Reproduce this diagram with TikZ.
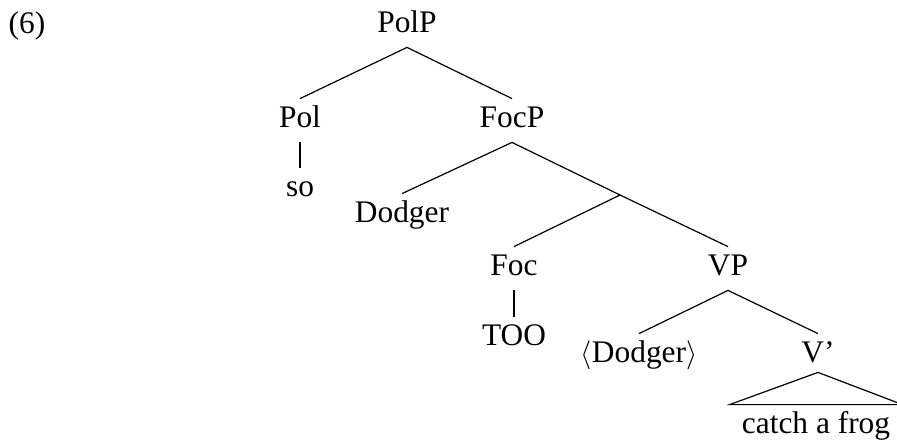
\documentclass[tikz,border=0pt]{standalone}
\usepackage{fontspec}
\setmainfont{Liberation Serif}
\begin{document}
\begin{tikzpicture}[
    x=0.5pt, y=-0.5pt,
    cat/.style={anchor=base, font=\fontsize{15.7}{18}\selectfont,
      text height=10pt, text depth=3.5pt, inner xsep=3pt, inner ysep=4pt},
    branch/.style={line width=0.6pt}
  ]
  \useasboundingbox (0,0) rectangle (897,440);

  \node (ex) at (27, 33) [cat] {(6)};

  \node (polp)   at (407, 32)  [cat] {PolP};
  \node (pol)    at (300, 127) [cat] {Pol};
  \node (focp)   at (512, 127) [cat] {FocP};
  \node (so)     at (300, 196) [cat] {so};
  \node (dodger) at (402, 222) [cat] {Dodger};
  \coordinate (fbar) at (620, 195);
  \node (foc)    at (514, 275) [cat] {Foc};
  \node (vp)     at (728, 275) [cat] {VP};
  \node (too)    at (514, 345) [cat] {TOO};
  \node (trace)  at (639, 362) [cat] {$\langle$Dodger$\rangle$};
  \node (vbar)   at (818, 362) [cat] {V'};
  \node (catch)  at (816, 433) [cat, inner xsep=6pt] {catch a frog};

  \draw [branch] (pol.north) -- (polp.south) -- (focp.north);
  \draw [branch] (pol.south) -- (so.north);
  \draw [branch] (dodger.north) -- (focp.south) -- (fbar);
  \draw [branch] (foc.north) -- (fbar) -- (vp.north);
  \draw [branch] (foc.south) -- (too.north);
  \draw [branch] (trace.north) -- (vp.south) -- (vbar.north);
  % triangle over the unanalysed V'
  \draw [branch] ([yshift=2.5pt]vbar.south) -- (catch.north east)
    -- (catch.north west) -- cycle;
\end{tikzpicture}
\end{document}
